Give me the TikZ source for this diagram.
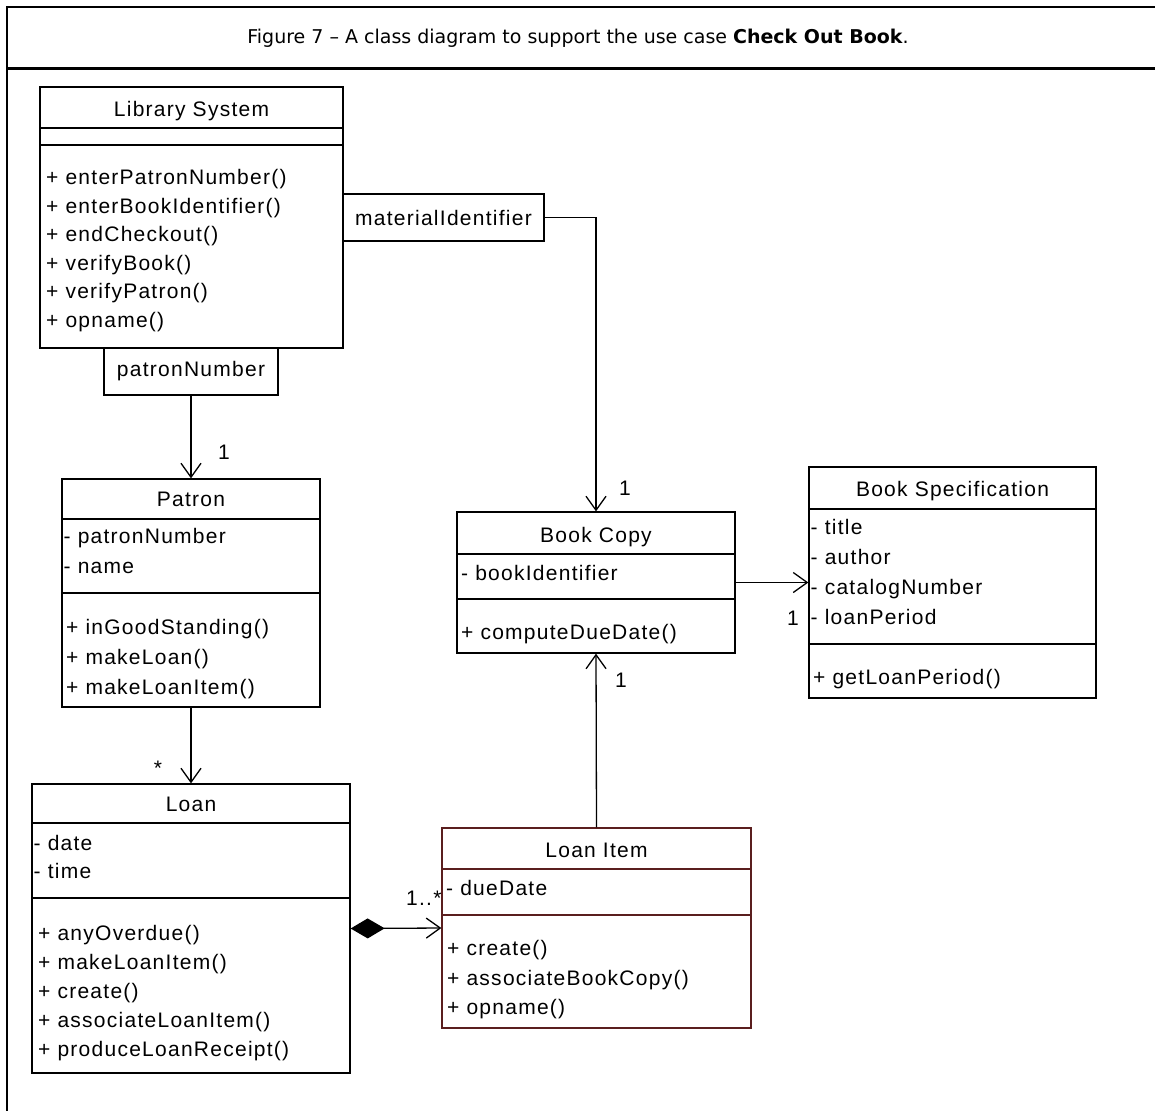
\documentclass[tikz,border=0pt]{standalone}
\usepackage{fontspec}
\setmainfont{Liberation Sans}[LetterSpace=6]
\newfontfamily\titlefont{DejaVu Sans}
\usetikzlibrary{arrows.meta}
\definecolor{itembrown}{HTML}{5A1E1E}
\begin{document}
\begin{tikzpicture}[x=1pt,y=-1pt,
  classbox/.style={draw=black,line width=1.3pt,rectangle,inner sep=0pt},
  sec/.style={line width=1.3pt},
  umlfont/.style={font=\fontsize{21}{25}\selectfont},
  txt/.style={umlfont,inner sep=0pt,anchor=west,text height=15pt,text depth=0pt},
  ctitle/.style={txt,anchor=center},
  assoc/.style={line width=1.3pt,-{Straight Barb[length=14pt,width=20pt,line width=1.3pt]}},
  frame/.style={line width=2.2pt}]
\useasboundingbox (0,0) rectangle (1155,1111);
% frame
\coordinate (ftl) at (7,7);
\coordinate (ftr) at (1155,7);
\coordinate (fsl) at (7,68.5);
\coordinate (fsr) at (1155,68.5);
\coordinate (fbl) at (7,1111);
\draw[frame] (ftr) -- (ftl) -- (fbl);
\draw[frame] (fsl) -- (fsr);
\node[font=\titlefont\fontsize{19}{23}\selectfont,inner sep=0pt] (title) at (578,38) {Figure 7 – A class diagram to support the use case \textbf{Check Out Book}.};

% Library System
\node[classbox,minimum width=303pt,minimum height=261pt] (lib) at (191.5,217.5) {};
\node[ctitle] (libt) at (191.5,109) {Library System};
\draw[sec] (lib.west |- 0,128) -- (lib.east |- 0,128);
\draw[sec] (lib.west |- 0,145) -- (lib.east |- 0,145);
\node[txt] (lib1) at (46,177) {+ enterPatronNumber()};
\node[txt] (lib2) at (46,205.5) {+ enterBookIdentifier()};
\node[txt] (lib3) at (46,234) {+ endCheckout()};
\node[txt] (lib4) at (46,262.5) {+ verifyBook()};
\node[txt] (lib5) at (46,291) {+ verifyPatron()};
\node[txt] (lib6) at (46,319.5) {+ opname()};

% qualifiers
\node[classbox,umlfont,minimum width=174pt,minimum height=47pt] (patq) at (191,371.5) {patronNumber};
\node[classbox,umlfont,minimum width=201pt,minimum height=47pt] (matq) at (443.5,217.5) {materialIdentifier};

% Patron
\node[classbox,minimum width=258pt,minimum height=228pt] (patron) at (191,593) {};
\node[ctitle] (patront) at (191,499) {Patron};
\draw[sec] (patron.west |- 0,519) -- (patron.east |- 0,519);
\draw[sec] (patron.west |- 0,593) -- (patron.east |- 0,593);
\node[txt] (pa1) at (63.5,536) {- patronNumber};
\node[txt] (pa2) at (63.5,566) {- name};
\node[txt] (po1) at (66,627) {+ inGoodStanding()};
\node[txt] (po2) at (66,657) {+ makeLoan()};
\node[txt] (po3) at (66,687) {+ makeLoanItem()};

% Loan
\node[classbox,minimum width=318pt,minimum height=289pt] (loan) at (191,928.5) {};
\node[ctitle] (loant) at (191,804) {Loan};
\draw[sec] (loan.west |- 0,823) -- (loan.east |- 0,823);
\draw[sec] (loan.west |- 0,898) -- (loan.east |- 0,898);
\node[txt] (la1) at (33.5,843) {- date};
\node[txt] (la2) at (33.5,871) {- time};
\node[txt] (lo1) at (38,933) {+ anyOverdue()};
\node[txt] (lo2) at (38,962) {+ makeLoanItem()};
\node[txt] (lo3) at (38,991) {+ create()};
\node[txt] (lo4) at (38,1020) {+ associateLoanItem()};
\node[txt] (lo5) at (38,1049) {+ produceLoanReceipt()};

% Book Copy
\node[classbox,minimum width=278pt,minimum height=141pt] (copy) at (596,582.5) {};
\node[ctitle] (copyt) at (596,535) {Book Copy};
\draw[sec] (copy.west |- 0,554) -- (copy.east |- 0,554);
\draw[sec] (copy.west |- 0,599) -- (copy.east |- 0,599);
\node[txt] (ca1) at (461,573) {- bookIdentifier};
\node[txt] (co1) at (461,632) {+ computeDueDate()};

% Book Specification
\node[classbox,minimum width=287pt,minimum height=231pt] (spec) at (952.5,582.5) {};
\node[ctitle] (spect) at (952.5,489) {Book Specification};
\draw[sec] (spec.west |- 0,509) -- (spec.east |- 0,509);
\draw[sec] (spec.west |- 0,644) -- (spec.east |- 0,644);
\node[txt] (sa1) at (810.5,527) {- title};
\node[txt] (sa2) at (810.5,557) {- author};
\node[txt] (sa3) at (810.5,587) {- catalogNumber};
\node[txt] (sa4) at (810.5,617) {- loanPeriod};
\node[txt] (so1) at (813,677) {+ getLoanPeriod()};

% Loan Item
\node[classbox,draw=itembrown,minimum width=309pt,minimum height=200pt] (item) at (596.5,928) {};
\node[ctitle] (itemt) at (596.5,850) {Loan Item};
\draw[sec,itembrown] (item.west |- 0,869) -- (item.east |- 0,869);
\draw[sec,itembrown] (item.west |- 0,915) -- (item.east |- 0,915);
\node[txt] (ia1) at (446,888) {- dueDate};
\node[txt] (io1) at (447,948) {+ create()};
\node[txt] (io2) at (447,978) {+ associateBookCopy()};
\node[txt] (io3) at (447,1007) {+ opname()};

% connectors
\draw[assoc] (patq.south) -- (patron.north);
\draw[assoc] (patron.south) -- (loan.north);
\draw[assoc] (matq.east) -| (copy.north);
\draw[assoc] (copy.east) -- (spec.west);
\draw[assoc] (item.north) -- (copy.south);
\draw[line width=1.3pt,{Diamond[length=34pt,width=20pt]}-{Straight Barb[length=14pt,width=20pt,line width=1.3pt]}] (loan.east) -- (item.west);

% multiplicities
\node[ctitle] (m1) at (224,452) {1};
\node[ctitle] (m2) at (158,768) {*};
\node[ctitle] (m3) at (625,488) {1};
\node[ctitle] (m4) at (793,618) {1};
\node[ctitle] (m5) at (621,680) {1};
\node[txt] (m6) at (406,898) {1..*};
\end{tikzpicture}
\end{document}
